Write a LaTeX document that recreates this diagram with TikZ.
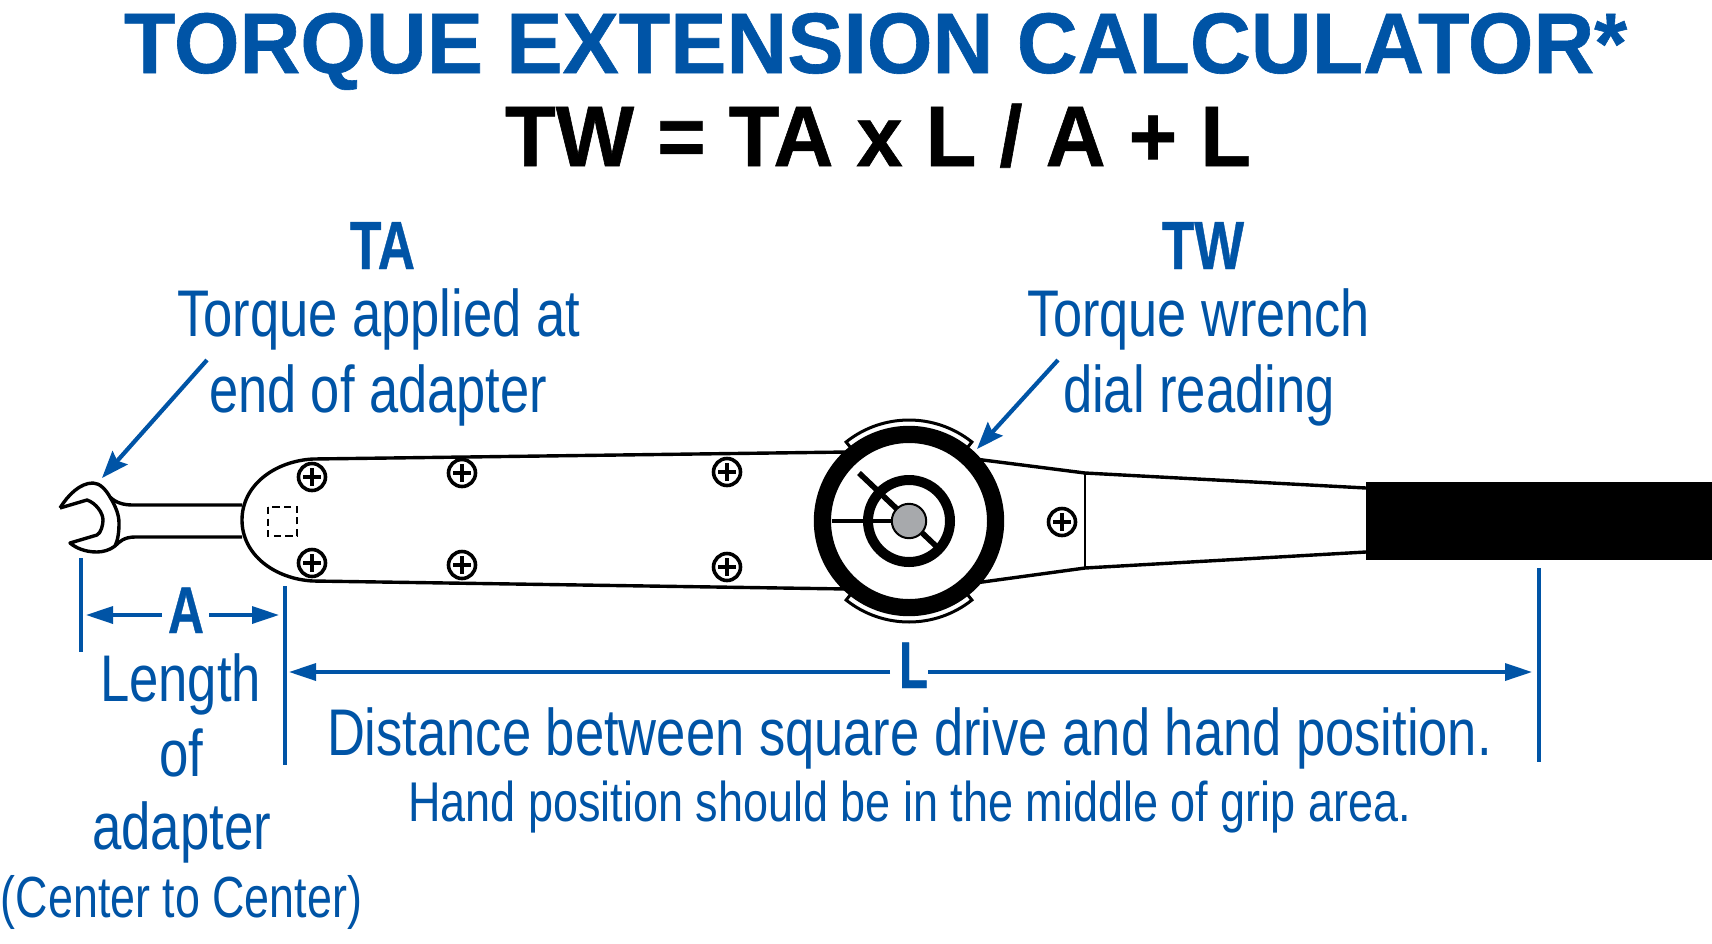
\documentclass[tikz,border=0pt]{standalone}
\usepackage{fontspec}
\usepackage{graphicx}
\setmainfont{Liberation Sans}
\newfontfamily\heavyfont[FakeBold=0.7]{Liberation Sans Bold}
\usetikzlibrary{arrows.meta,calc}
\definecolor{toolblue}{RGB}{0,84,166}
\definecolor{hubgray}{RGB}{167,169,172}
% #1 target width in px, #2 size in pt, #3 text
\newcommand\fitw[3]{\resizebox{\dimexpr #1pt/2\relax}{\height}{\fontsize{#2}{#2}\selectfont #3}}
\tikzset{
  txt/.style={inner sep=0pt,outer sep=0pt,anchor=base west,text=toolblue},
  outline/.style={draw=black,line width=1.7pt,line join=round},
  thin outline/.style={draw=black,line width=1.4pt},
  screwhead/.style={circle,draw=black,line width=1.8pt,minimum size=13.5pt,inner sep=0pt,fill=white},
  screwcross/.style={draw=black,line width=2.4pt},
  dimline/.style={draw=toolblue,line width=2pt},
  dimarrow/.style={draw=toolblue,line width=1.7pt,-{Triangle[length=13.5pt,width=8.5pt]}},
  callout/.style={draw=toolblue,line width=2.1pt,-{Stealth[length=13.5pt,width=10pt,inset=2pt]}},
}
\newcommand\screw[2]{%
  \node[screwhead] (#1) at #2 {};
  \draw[screwcross] ($(#1)+(-4.4pt,0)$) -- ($(#1)+(4.4pt,0)$);
  \draw[screwcross] ($(#1)+(0,-4.4pt)$) -- ($(#1)+(0,4.4pt)$);
}
\begin{document}
\begin{tikzpicture}[x=0.5pt,y=-0.5pt]
\useasboundingbox (0,0) rectangle (1712,943);
\fill[white] (0,0) rectangle (1712,943);
% headings
\node[txt] (title) at (124,73) {\fitw{1503}{43}{\heavyfont TORQUE EXTENSION CALCULATOR*}};
\node[txt,text=black] (formula) at (505,166) {\fitw{746}{43}{\heavyfont TW = TA x L / A + L}};
% wrench head and shaft
\draw[outline] (60,508) .. controls (68,495) and (80,483) .. (93,483)
  .. controls (100,483) and (106,490) .. (110,497)
  .. controls (116,503) and (124,505) .. (133,505) -- (242,505);
\draw[outline] (242,537) -- (135,537) .. controls (124,537) and (119,542) .. (115,546)
  .. controls (110,550) and (103,552) .. (97,552)
  .. controls (85,552) and (76,548) .. (70,543) -- (97,535)
  .. controls (101,533) and (103,525) .. (103,520)
  .. controls (103,513) and (96,503) .. (87,500) -- (60,508);
\draw[outline] (110,497) .. controls (116,507) and (119,515) .. (119,523)
  .. controls (119,532) and (118,540) .. (115,546);
% body
\draw[outline] (848,452) -- (313,459) .. controls (275,461) and (242,485) .. (242,520)
  .. controls (242,555) and (275,579) .. (313,581) -- (848,589);
\draw[outline] (975,459) -- (1085,473) -- (1366,488);
\draw[outline] (975,583) -- (1085,568) -- (1366,552);
\draw[thin outline] (1085,473) -- (1085,568);
\fill[black] (1366,482) rectangle (1712,560);
\draw[black,line width=1.3pt,dash pattern=on 3.6pt off 2.2pt] (268,507) rectangle (297,536);
% screws
\screw{s1}{(312,477)}
\screw{s2}{(312,563)}
\screw{s3}{(462,473)}
\screw{s4}{(462,565)}
\screw{s5}{(727,472)}
\screw{s6}{(727,567)}
\screw{s7}{(1062,522)}
% dial
\coordinate (hubc) at (909,521);
\fill[white] (hubc) circle[radius=47pt];
\draw[black,line width=8.6pt] (hubc) circle[radius=43.3pt];
\draw[black,line width=5pt] (hubc) circle[radius=20.5pt];
\draw[black,line width=2pt] (832,521) -- (hubc);
\draw[black,line width=2.8pt] (859,473) -- (937,547);
\fill[hubgray,draw=black,line width=1pt] (hubc) circle[radius=8.6pt];
\foreach \sgn in {1,-1}{
  \draw[black,line width=1.5pt,line join=miter]
    ($(hubc)+(\sgn*51.5:47pt)$) -- ($(hubc)+(\sgn*51.5:50.5pt)$)
    arc[start angle=\sgn*51.5,end angle=\sgn*128.5,radius=50.5pt]
    -- ($(hubc)+(\sgn*128.5:47pt)$);
}
% callouts
\node[txt] (tahead) at (350,269) {\fitw{65}{34}{\heavyfont TA}};
\node[txt] (tal1) at (177,336) {\fitw{403}{33}{Torque applied at}};
\node[txt] (tal2) at (209,412) {\fitw{338}{33}{end of adapter}};
\node[txt] (twhead) at (1162,269) {\fitw{82}{34}{\heavyfont TW}};
\node[txt] (twl1) at (1027,336) {\fitw{343}{33}{Torque wrench}};
\node[txt] (twl2) at (1063,412) {\fitw{272}{33}{dial reading}};
\coordinate (tatail) at (207,360);
\coordinate (tatip) at (102,478);
\coordinate (twtail) at (1058,360);
\coordinate (twtip) at (977,449);
\draw[callout] (tatail) -- (tatip);
\draw[callout] (twtail) -- (twtip);
% dimensions
\coordinate (e1a) at (81,558);  \coordinate (e1b) at (81,652);
\coordinate (e2a) at (285,586); \coordinate (e2b) at (285,765);
\coordinate (e3a) at (1539,568);\coordinate (e3b) at (1539,762);
\draw[dimline] (e1a) -- (e1b);
\draw[dimline] (e2a) -- (e2b);
\draw[dimline] (e3a) -- (e3b);
\node[txt] (adim) at (168,633) {\fitw{36}{33}{\heavyfont A}};
\node[txt] (ldim) at (899,688) {\fitw{29}{33}{\heavyfont L}};
\coordinate (a1) at (162,615); \coordinate (a1t) at (86,615);
\coordinate (a2) at (209,615); \coordinate (a2t) at (279,615);
\coordinate (l1) at (890,672); \coordinate (l1t) at (289,672);
\coordinate (l2) at (928,672); \coordinate (l2t) at (1532,672);
\draw[dimarrow] (a1) -- (a1t);
\draw[dimarrow] (a2) -- (a2t);
\draw[dimarrow] (l1) -- (l1t);
\draw[dimarrow] (l2) -- (l2t);
% lower text
\node[txt] (t1) at (100,701) {\fitw{161}{33}{Length}};
\node[txt] (t2) at (159,776) {\fitw{44}{33}{of}};
\node[txt] (t3) at (92,849) {\fitw{179}{33}{adapter}};
\node[txt] (t4) at (1,917) {\fitw{361}{29}{(Center to Center)}};
\node[txt] (t5) at (327,755) {\fitw{1165}{33}{Distance between square drive and hand position.}};
\node[txt] (t6) at (408,821) {\fitw{1003}{28}{Hand position should be in the middle of grip area.}};
\end{tikzpicture}
\end{document}
